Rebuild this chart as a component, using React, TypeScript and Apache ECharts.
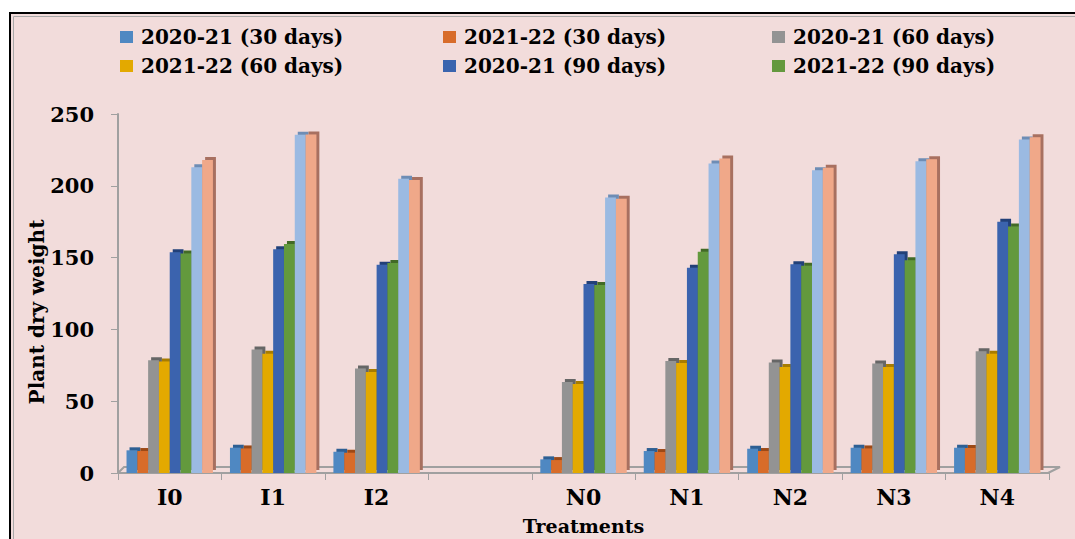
import React, { useEffect, useRef } from "react";
import * as echarts from "echarts";

const categories = ["I0", "I1", "I2", "", "N0", "N1", "N2", "N3", "N4"];
const seriesNames = [
  "2020-21 (30 days)",
  "2021-22 (30 days)",
  "2020-21 (60 days)",
  "2021-22 (60 days)",
  "2020-21 (90 days)",
  "2021-22 (90 days)",
  "Series 7",
  "Series 8",
];
const s1 = [15.8, 17.6, 14.8, null, 9.5, 15.3, 16.9, 17.6, 17.6];
const s2 = [15.3, 17.1, 14.1, null, 9.0, 14.6, 15.3, 17.1, 17.4];
const s3 = [78.5, 86, 72.7, null, 63.4, 78, 76.9, 76.2, 84.7];
const s4 = [77.6, 83, 70.4, null, 62, 76.6, 73.8, 73.8, 83];
const s5 = [153.7, 155.8, 145, null, 131.7, 143, 145.4, 152.3, 175];
const s6 = [152.8, 159.5, 146.3, null, 131, 154, 144.4, 148.1, 171.7];
const s7 = [213, 235.6, 204.9, null, 191.9, 215.5, 210.9, 217.1, 232.2];
const s8 = [218, 235.8, 204, null, 191, 219, 212.5, 218.5, 233.8];
const yTicks = { min: 0, max: 250, interval: 50 };

const colors = ["#4F88C2", "#D86C2A", "#939393", "#E3A900", "#3A64AE", "#64993E", "#9BBAE2", "#F0A889"];
const sideColors = ["#2F5F93", "#9C4A18", "#666666", "#A77C00", "#223F78", "#436A28", "#6E8DB5", "#A87060"];

const FONT = "DejaVu Serif";

export default function App() {
  const ref = useRef<HTMLDivElement>(null);
  useEffect(() => {
    if (!ref.current) return;
    const chart = echarts.init(ref.current, undefined, { renderer: "svg" });
    const data = [s1, s2, s3, s4, s5, s6, s7, s8];
    const legendPos = [
      [120, 27],
      [443, 27],
      [772, 27],
      [120, 56],
      [443, 56],
      [772, 56],
    ];
    chart.setOption({
      animation: false,
      backgroundColor: "#ffffff",
      legend: legendPos.map((p, i) => ({
        data: [seriesNames[i]],
        left: p[0],
        top: p[1],
        padding: 0,
        itemWidth: 13,
        itemHeight: 12,
        icon: "rect",
        textStyle: {
          fontFamily: FONT,
          fontWeight: "bold",
          fontSize: 20,
          color: "#000",
          padding: [0, 0, 0, 3],
        },
      })),
      grid: { left: 118, right: 26, top: 114, bottom: 66, containLabel: false, outerBoundsMode: "none" },
      xAxis: {
        type: "category",
        data: categories,
        name: "Treatments",
        nameLocation: "middle",
        nameGap: 44,
        nameMoveOverlap: false,
        nameTextStyle: { fontFamily: FONT, fontWeight: "bold", fontSize: 19, lineHeight: 18, color: "#000" },
        axisLine: { lineStyle: { color: "#A0A0A0", width: 2 } },
        axisTick: { show: true, length: 7, lineStyle: { color: "#A0A0A0", width: 1 } },
        axisLabel: { fontFamily: FONT, fontWeight: "bold", fontSize: 22, lineHeight: 20, color: "#000", margin: 14 },
      },
      yAxis: {
        type: "value",
        min: yTicks.min,
        max: yTicks.max,
        interval: yTicks.interval,
        axisLine: { show: true, lineStyle: { color: "#A0A0A0", width: 2 } },
        axisTick: { show: true, length: 7, lineStyle: { color: "#A0A0A0", width: 1 } },
        splitLine: { show: false },
        axisLabel: { fontFamily: FONT, fontWeight: "bold", fontSize: 21, color: "#000", margin: 24 },
      },
      graphic: [
        {
          type: "rect",
          z: -100,
          shape: { x: 10, y: 13, width: 1200, height: 700 },
          style: { fill: "#F2DCDB", stroke: "#000", lineWidth: 2 },
        },
        {
          type: "rect",
          z: -99,
          shape: { x: 13.5, y: 16.5, width: 1200, height: 700 },
          style: { fill: "none", stroke: "#A8A8A8", lineWidth: 1 },
        },
        {
          type: "polyline",
          z: -50,
          shape: { points: [[118, 473], [124, 467], [1060, 467], [1048, 473]] },
          style: { fill: "none", stroke: "#A0A0A0", lineWidth: 2 },
        },
        {
          type: "text",
          x: 37,
          y: 312,
          rotation: Math.PI / 2,
          style: {
            text: "Plant dry weight",
            fontFamily: FONT,
            fontWeight: "bold",
            fontSize: 20,
            fill: "#000",
            textAlign: "center",
            textVerticalAlign: "middle",
          },
        },
      ],
      series: data.map((d, i) => ({
        name: seriesNames[i],
        type: "bar",
        data: d,
        barWidth: 10.8,
        barGap: "0%",
        itemStyle: {
          color: colors[i],
          shadowColor: sideColors[i],
          shadowOffsetX: 3,
          shadowOffsetY: -3,
          shadowBlur: 0,
        },
      })),
    });
    return () => chart.dispose();
  }, []);
  return (
    <div
      ref={ref}
      style={{ position: "fixed", left: 0, top: 0, width: 1075, height: 539 }}
    />
  );
}
